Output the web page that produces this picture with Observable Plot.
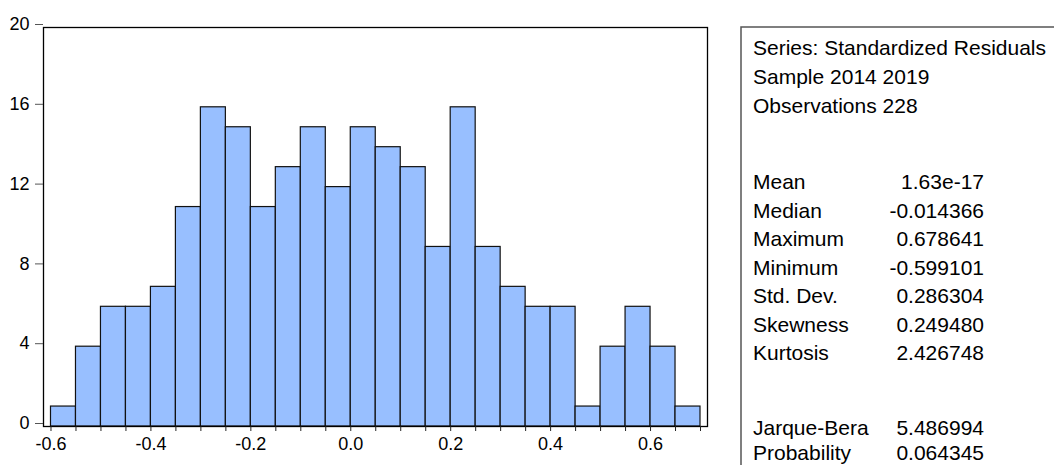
<!DOCTYPE html>
<html><head><meta charset="utf-8">
<script src="https://cdn.jsdelivr.net/npm/d3@7"></script>
<script src="https://cdn.jsdelivr.net/npm/@observablehq/plot@0.6"></script>
<style>
body{margin:0;background:#fff;}
#wrap{position:relative;width:1054px;height:465px;overflow:hidden;font-family:"Liberation Sans",Arial,sans-serif;}
#wrap svg{position:absolute;left:0;top:0;}
</style></head><body><div id="wrap"></div>
<script>
const binEdges = [-0.60,-0.55,-0.50,-0.45,-0.40,-0.35,-0.30,-0.25,-0.20,-0.15,-0.10,-0.05,0.00,0.05,0.10,0.15,0.20,0.25,0.30,0.35,0.40,0.45,0.50,0.55,0.60,0.65,0.70];
const counts = [1,4,6,6,7,11,16,15,11,13,15,12,15,14,13,9,16,9,7,6,6,1,4,6,4,1];
const xTickLabels = [-0.6,-0.4,-0.2,0.0,0.2,0.4,0.6];
const yTicks = [0,4,8,12,16,20];
const statsHeader = ["Series: Standardized Residuals","Sample 2014 2019","Observations 228"];
const statNames = ["Mean","Median","Maximum","Minimum","Std. Dev.","Skewness","Kurtosis"];
const statValues = ["1.63e-17","-0.014366","0.678641","-0.599101","0.286304","0.249480","2.426748"];
const testNames = ["Jarque-Bera","Probability"];
const testValues = ["5.486994","0.064345"];

const bins = counts.map((c,i)=>({x1:binEdges[i], x2:binEdges[i+1], count:c}));

const chart = Plot.plot({
  width:1054, height:465,
  marginLeft:43, marginRight:347, marginTop:27, marginBottom:39,
  x:{domain:[-0.615,0.714]},
  y:{domain:[0,20]},
  style:{fontFamily:"'Liberation Sans', Arial, sans-serif", fontSize:"18px", color:"#000", background:"transparent"},
  marks:[
    Plot.rectY(bins,{x1:"x1",x2:"x2",y:"count",fill:"#98bfff",stroke:"#111",strokeWidth:1.2}),
    Plot.frame({stroke:"#000", strokeWidth:1.3}),
    Plot.axisX({ticks:binEdges, tickSize:5, tickFormat:()=>"", stroke:"#222", label:null}),
    Plot.axisX({ticks:xTickLabels, tickSize:0, tickPadding:11, fontSize:18, tickFormat:d=>d.toFixed(1), label:null}),
    Plot.axisY({ticks:yTicks, tickSize:8, tickPadding:6, dy:-3, fontSize:18, stroke:"#555", tickFormat:d=>String(d), label:null})
  ]
});
document.getElementById("wrap").appendChild(chart);

const svg = d3.select("#wrap").append("svg").attr("width",1054).attr("height",465)
  .style("font-family","'Liberation Sans', Arial, sans-serif").style("font-size","21px");
svg.append("rect").attr("x",741).attr("y",27).attr("width",400).attr("height",500)
  .attr("fill","none").attr("stroke","#555").attr("stroke-width",1.5);
const lx = 753, vx = 984, lh = 28.5;
statsHeader.forEach((t,i)=>svg.append("text").attr("x",lx).attr("y",55+i*29).text(t));
statNames.forEach((t,i)=>{
  svg.append("text").attr("x",lx).attr("y",189+i*lh).text(t);
  svg.append("text").attr("x",vx).attr("y",189+i*lh).attr("text-anchor","end").text(statValues[i]);
});
testNames.forEach((t,i)=>{
  svg.append("text").attr("x",lx).attr("y",435+i*25).text(t);
  svg.append("text").attr("x",vx).attr("y",435+i*25).attr("text-anchor","end").text(testValues[i]);
});
</script></body></html>
